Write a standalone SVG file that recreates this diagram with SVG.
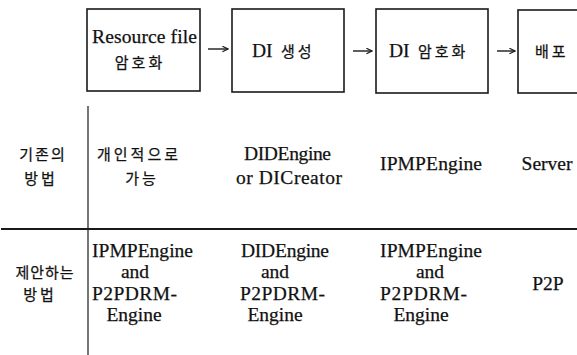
<svg xmlns="http://www.w3.org/2000/svg" width="577" height="355" viewBox="0 0 577 355">
  <style>
    .box { fill: #fff; stroke: #1a1a1a; stroke-width: 1.6; }
    .rule { stroke: #1a1a1a; fill: none; }
    .arrow { stroke: #1a1a1a; stroke-width: 1.4; fill: none; }
  </style>
  <defs>
    <marker id="head" viewBox="0 0 10 10" refX="9" refY="5" markerWidth="7" markerHeight="7" orient="auto" markerUnits="userSpaceOnUse">
      <path d="M1,1 L9,5 L1,9" fill="none" stroke="#1a1a1a" stroke-width="1.6"/>
    </marker>
  </defs>
  <rect width="577" height="355" fill="#fff"/>

  <!-- Latin labels use a Times-metric serif; Hangul labels use Noto Sans CJK KR -->
  <g font-family="Liberation Serif, serif" font-size="19.5" fill="#111" stroke="#111" stroke-width="0.25">

    <!-- process steps -->
    <g id="step-resource">
      <rect class="box" x="87" y="9" width="113" height="82"/>
      <text x="92" y="43" textLength="105" lengthAdjust="spacing">Resource file</text>
      <text font-family="Noto Sans CJK KR, sans-serif" font-size="15" x="140" y="68" text-anchor="middle" letter-spacing="3">암호화</text>
    </g>
    <g id="step-di-create">
      <rect class="box" x="232" y="9" width="112" height="83"/>
      <text x="252" y="57">DI</text>
      <text font-family="Noto Sans CJK KR, sans-serif" font-size="15" x="281" y="57" letter-spacing="3">생성</text>
    </g>
    <g id="step-di-encrypt">
      <rect class="box" x="376" y="9" width="112" height="84"/>
      <text x="389" y="57">DI</text>
      <text font-family="Noto Sans CJK KR, sans-serif" font-size="15" x="418" y="57" letter-spacing="3">암호화</text>
    </g>
    <g id="step-deploy">
      <rect class="box" x="518" y="10" width="70" height="83"/>
      <text font-family="Noto Sans CJK KR, sans-serif" font-size="15" x="535" y="57" letter-spacing="3">배포</text>
    </g>

    <!-- existing method row -->
    <g id="row-existing">
      <g font-family="Noto Sans CJK KR, sans-serif" font-size="15" text-anchor="middle" letter-spacing="3">
        <text x="43" y="160" letter-spacing="2">기존의</text>
        <text x="41" y="184">방법</text>
        <text x="139" y="160">개인적으로</text>
        <text x="142" y="184">가능</text>
      </g>
      <text x="244" y="160" textLength="87" lengthAdjust="spacing">DIDEngine</text>
      <text x="236" y="184" textLength="106" lengthAdjust="spacing">or DICreator</text>
      <text x="380" y="170" textLength="102" lengthAdjust="spacing">IPMPEngine</text>
      <text x="547" y="170" text-anchor="middle">Server</text>
    </g>

    <!-- proposed method row -->
    <g id="row-proposed">
      <g font-family="Noto Sans CJK KR, sans-serif" font-size="15" text-anchor="middle">
        <text x="45" y="278" letter-spacing="1">제안하는</text>
        <text x="40" y="300" letter-spacing="3">방법</text>
      </g>

      <text x="92" y="257" textLength="101" lengthAdjust="spacing">IPMPEngine</text>
      <text x="135" y="278" text-anchor="middle">and</text>
      <text x="92" y="300" textLength="85" lengthAdjust="spacing">P2PDRM-</text>
      <text x="134" y="321" text-anchor="middle">Engine</text>

      <text x="241" y="257" textLength="88" lengthAdjust="spacing">DIDEngine</text>
      <text x="275" y="278" text-anchor="middle">and</text>
      <text x="240" y="300" textLength="85" lengthAdjust="spacing">P2PDRM-</text>
      <text x="275" y="321" text-anchor="middle">Engine</text>

      <text x="380" y="257" textLength="102" lengthAdjust="spacing">IPMPEngine</text>
      <text x="430" y="278" text-anchor="middle">and</text>
      <text x="380" y="300" textLength="87" lengthAdjust="spacing">P2PDRM-</text>
      <text x="421" y="321" text-anchor="middle">Engine</text>

      <text x="548" y="290" text-anchor="middle">P2P</text>
    </g>
  </g>

  <!-- connectors -->
  <g id="connectors">
    <line class="arrow" x1="208" y1="49" x2="228" y2="49" marker-end="url(#head)"/>
    <line class="arrow" x1="353" y1="51" x2="372" y2="51" marker-end="url(#head)"/>
    <line class="arrow" x1="497" y1="51" x2="515" y2="51" marker-end="url(#head)"/>
  </g>

  <!-- table rules -->
  <g id="table-rules">
    <line class="rule" x1="88" y1="106" x2="88" y2="355" stroke-width="1.2"/>
    <line class="rule" x1="1" y1="229" x2="577" y2="229" stroke-width="2"/>
  </g>
</svg>
